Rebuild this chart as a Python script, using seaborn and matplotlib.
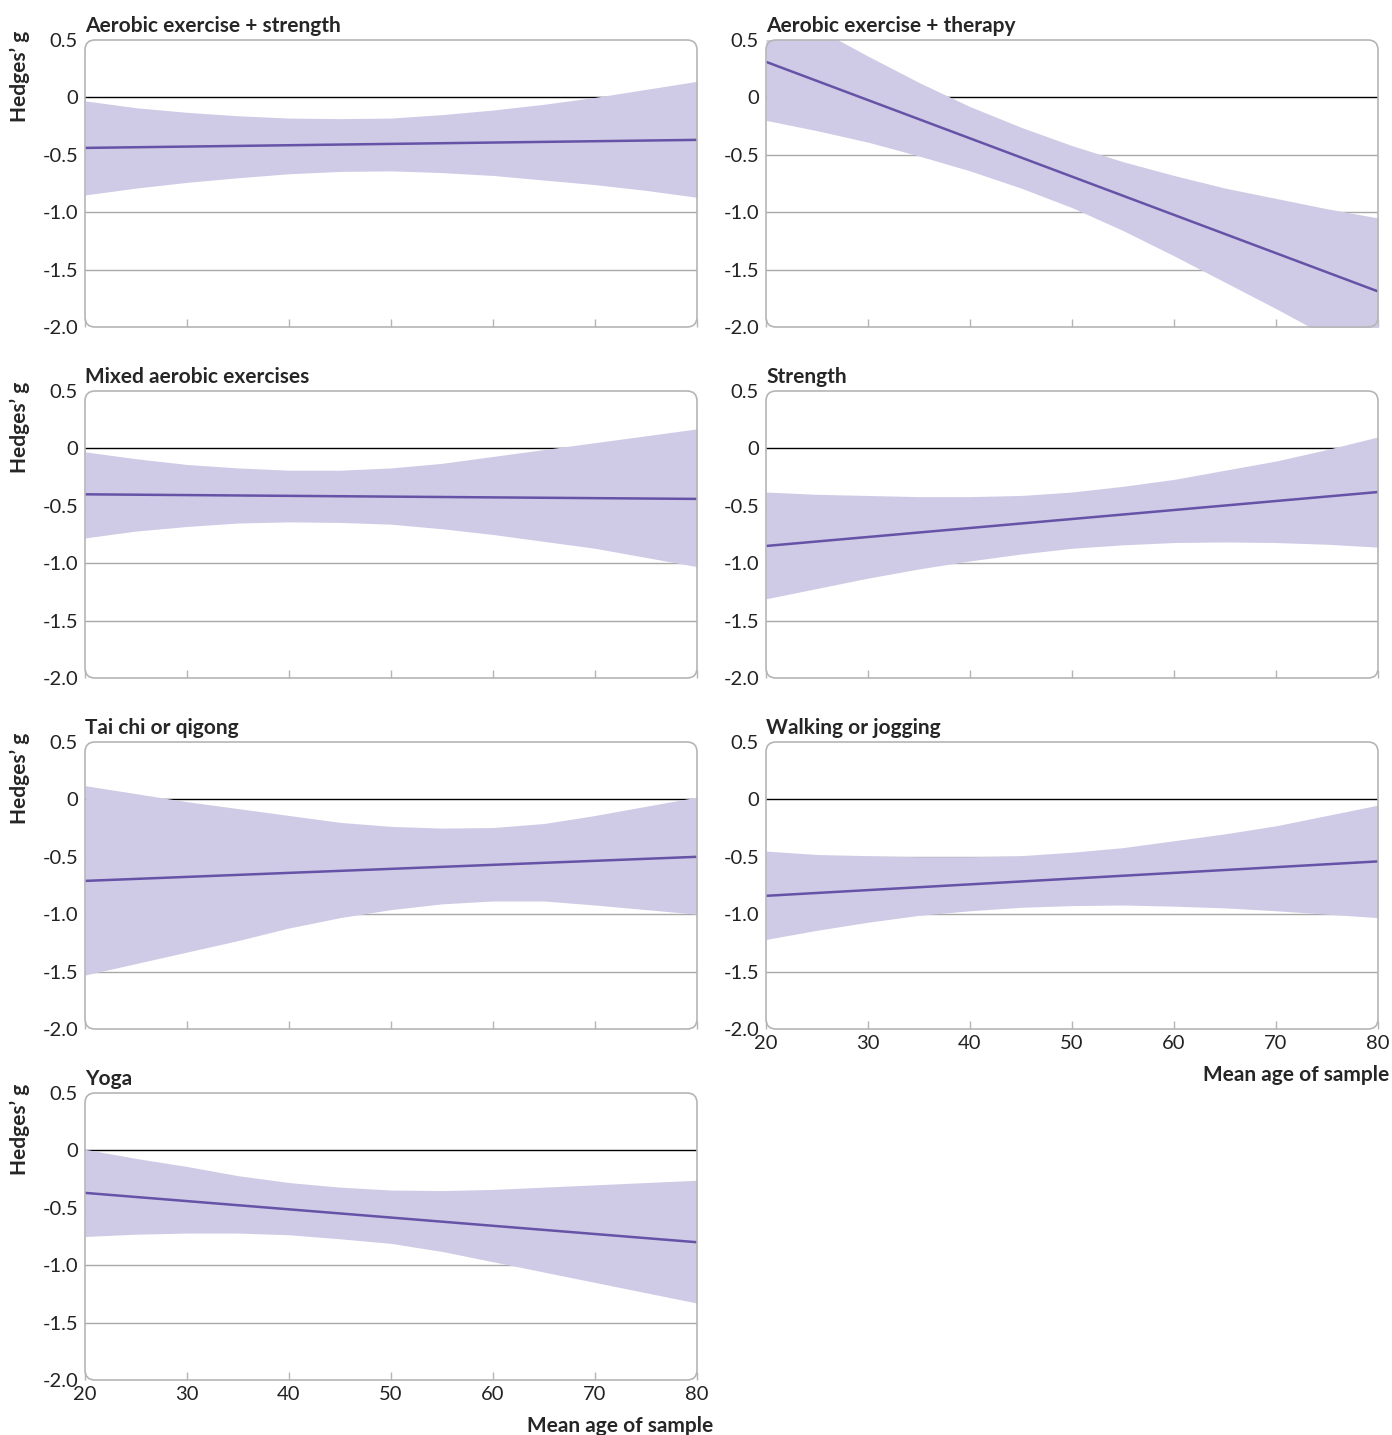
import numpy as np
import pandas as pd
import seaborn as sns
import matplotlib.pyplot as plt
from matplotlib.patches import FancyBboxPatch

sns.set_theme(style="white")
plt.rcParams['font.family'] = ['Lato', 'DejaVu Sans']

# band values every 5 years of mean age
ages = [20, 25, 30, 35, 40, 45, 50, 55, 60, 65, 70, 75, 80]
# the fitted lines are straight: read at both ends
line_ages = [20, 80]
titles = ["Aerobic exercise + strength", "Aerobic exercise + therapy",
          "Mixed aerobic exercises", "Strength",
          "Tai chi or qigong", "Walking or jogging", "Yoga"]

est_strength_aer = [-0.44, -0.37]
up_strength_aer = [-0.03, -0.09, -0.13, -0.16, -0.18, -0.185, -0.18, -0.15, -0.11, -0.06, 0.00, 0.07, 0.14]
lo_strength_aer = [-0.85, -0.79, -0.74, -0.70, -0.665, -0.645, -0.64, -0.655, -0.68, -0.72, -0.76, -0.81, -0.87]

est_therapy = [0.31, -1.69]
up_therapy = [0.87, 0.60, 0.36, 0.13, -0.08, -0.26, -0.42, -0.56, -0.68, -0.79, -0.88, -0.97, -1.05]
lo_therapy = [-0.20, -0.29, -0.39, -0.51, -0.64, -0.79, -0.96, -1.16, -1.38, -1.61, -1.84, -2.08, -2.31]

est_mixed = [-0.40, -0.44]
up_mixed = [-0.03, -0.09, -0.14, -0.17, -0.19, -0.19, -0.17, -0.13, -0.07, -0.01, 0.05, 0.11, 0.17]
lo_mixed = [-0.78, -0.72, -0.68, -0.65, -0.64, -0.645, -0.66, -0.70, -0.75, -0.81, -0.87, -0.95, -1.03]

est_strength = [-0.85, -0.38]
up_strength = [-0.38, -0.40, -0.41, -0.42, -0.42, -0.41, -0.38, -0.33, -0.27, -0.19, -0.11, -0.01, 0.10]
lo_strength = [-1.31, -1.22, -1.13, -1.05, -0.98, -0.92, -0.87, -0.84, -0.82, -0.815, -0.82, -0.835, -0.86]

est_taichi = [-0.71, -0.50]
up_taichi = [0.12, 0.05, -0.02, -0.08, -0.14, -0.20, -0.235, -0.25, -0.245, -0.21, -0.14, -0.06, 0.02]
lo_taichi = [-1.53, -1.43, -1.33, -1.23, -1.12, -1.03, -0.96, -0.91, -0.885, -0.885, -0.92, -0.96, -1.00]

est_walk = [-0.84, -0.54]
up_walk = [-0.45, -0.48, -0.49, -0.50, -0.50, -0.49, -0.46, -0.42, -0.36, -0.30, -0.23, -0.14, -0.05]
lo_walk = [-1.22, -1.14, -1.07, -1.01, -0.97, -0.94, -0.925, -0.92, -0.93, -0.945, -0.97, -1.00, -1.03]

est_yoga = [-0.37, -0.80]
up_yoga = [0.01, -0.07, -0.14, -0.22, -0.28, -0.32, -0.345, -0.35, -0.34, -0.32, -0.30, -0.28, -0.26]
lo_yoga = [-0.75, -0.73, -0.72, -0.72, -0.735, -0.77, -0.81, -0.88, -0.97, -1.06, -1.15, -1.24, -1.33]

series = [(est_strength_aer, up_strength_aer, lo_strength_aer),
          (est_therapy, up_therapy, lo_therapy),
          (est_mixed, up_mixed, lo_mixed),
          (est_strength, up_strength, lo_strength),
          (est_taichi, up_taichi, lo_taichi),
          (est_walk, up_walk, lo_walk),
          (est_yoga, up_yoga, lo_yoga)]

yticks = [0.5, 0, -0.5, -1.0, -1.5, -2.0]
ytick_labels = ["0.5", "0", "-0.5", "-1.0", "-1.5", "-2.0"]
xticks = [20, 30, 40, 50, 60, 70, 80]

W, H = 1392, 1435
fig = plt.figure(figsize=(W / 100, H / 100), dpi=100)

fill_col = "#cfcbe6"
line_col = "#6652a6"
box_col = "#b5b5b5"

col_x = [85, 766]
row_y = [40, 391, 742, 1093]
aw, ah = 612, 287
xlab_right = [713, 1389]

for i, (title, (est, up, lo)) in enumerate(zip(titles, series)):
    r, c = divmod(i, 2)
    x0, y0 = col_x[c], row_y[r]
    ax = fig.add_axes([x0 / W, 1 - (y0 + ah) / H, aw / W, ah / H])
    band = pd.DataFrame({"age": ages, "up": up, "lo": lo})
    fit = pd.DataFrame({"age": line_ages, "g": est})

    for yv in [-0.5, -1.0, -1.5]:
        ax.axhline(yv, color="#a8a8a8", lw=1, zorder=1)
    ax.axhline(0, color="black", lw=1, zorder=1)
    ax.fill_between(band["age"], band["lo"], band["up"], color=fill_col, lw=0, zorder=2)
    sns.lineplot(data=fit, x="age", y="g", ax=ax, color=line_col, lw=1.8, zorder=3)

    ax.set_xlim(20, 80)
    ax.set_ylim(-2.0, 0.5)
    for s in ax.spines.values():
        s.set_visible(False)
    box = FancyBboxPatch((x0 / 100, (H - y0 - ah) / 100), aw / 100, ah / 100,
                         boxstyle="round,pad=0,rounding_size=0.1",
                         transform=fig.dpi_scale_trans, fill=False,
                         edgecolor=box_col, lw=1.2, zorder=1.5)
    fig.add_artist(box)

    ax.set_yticks(yticks)
    ax.set_yticklabels(ytick_labels)
    ax.tick_params(axis="y", length=0, labelsize=14.5, pad=5, labelcolor="#222222")
    ax.set_xticks(xticks)
    bottom = (i == 5 or i == 6)
    ax.set_xticklabels([str(t) for t in xticks] if bottom else [])
    ax.tick_params(axis="x", direction="in", length=6, width=1, color=box_col,
                   labelsize=14.5, pad=4, bottom=True, labelcolor="#222222")
    ax.set_xlabel("")
    ax.set_ylabel("")
    ax.set_title(title, loc="left", fontsize=15, fontweight="bold", pad=6)

    if c == 0:
        fig.text(20 / W, 1 - (y0 + 36) / H, "Hedges\u2019 g", rotation=90,
                 fontsize=15, fontweight="bold", ha="center", va="center")
    if bottom:
        fig.text(xlab_right[c] / W, 1 - (y0 + ah + 46) / H, "Mean age of sample",
                 fontsize=15, fontweight="bold", ha="right", va="center")

fig.savefig("out.png", dpi=100)
